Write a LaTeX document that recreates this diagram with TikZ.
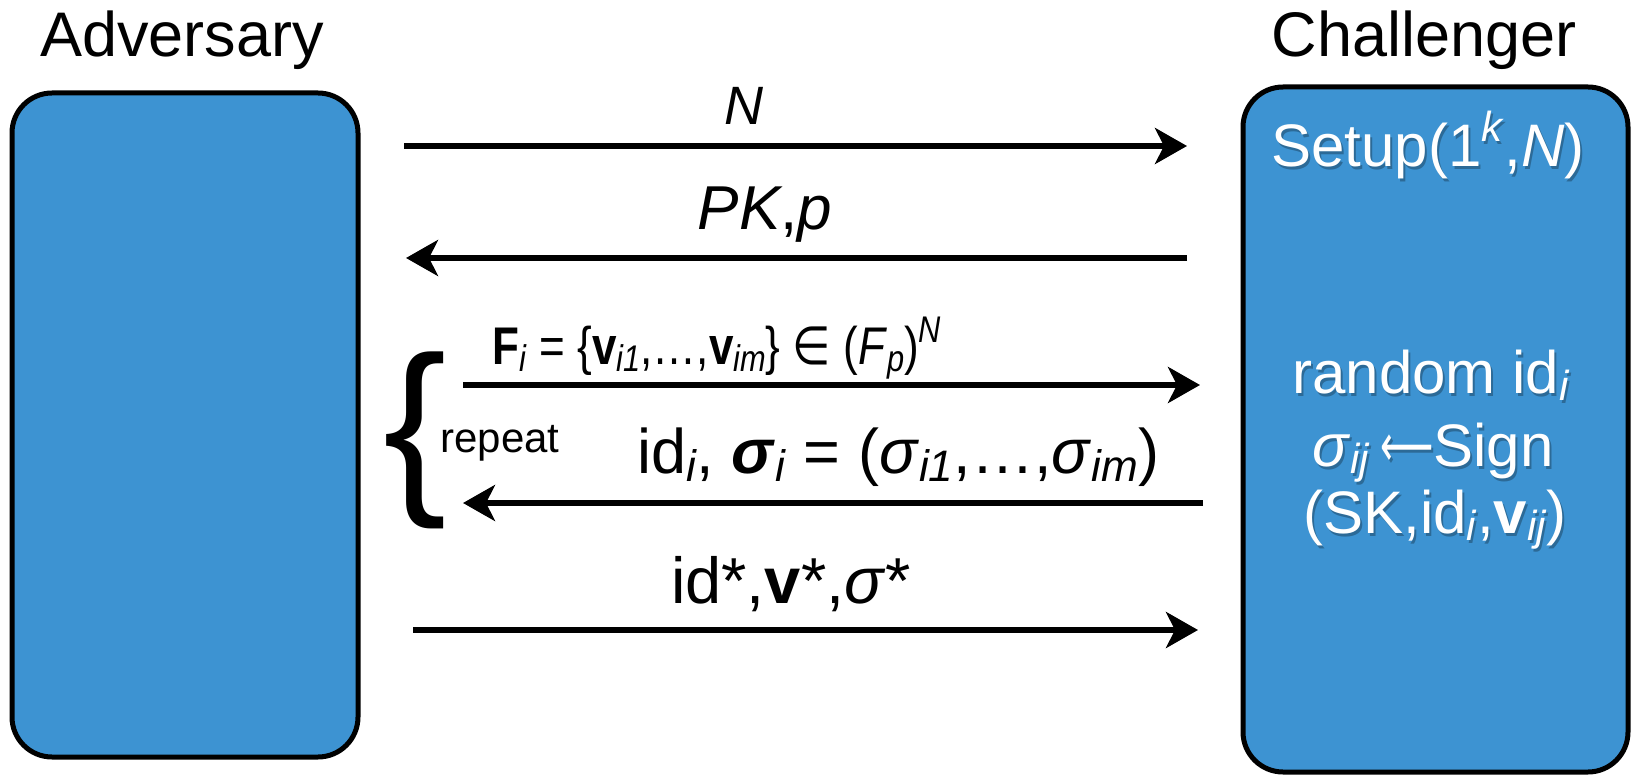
\documentclass[tikz,border=0pt]{standalone}
\usepackage{fontspec}
\setmainfont{Liberation Sans}
\newfontfamily\symf{DejaVu Sans}
\usetikzlibrary{arrows.meta}
\definecolor{boxblue}{RGB}{61,147,210}
\newcommand\sbx[1]{\raisebox{-0.13em}{\scalebox{0.7}{#1}}}
\newcommand\spx[1]{\raisebox{0.42em}{\scalebox{0.7}{#1}}}
\newcommand\wnode[3]{%
  \node[wt, text=black, opacity=0.28, xshift=2pt, yshift=-3pt] (#1-sh) at (#2) {#3};
  \node[wt] (#1) at (#2) {#3};}
\begin{document}
\begin{tikzpicture}[x=1pt,y=-1pt,
 box/.style={draw=black, line width=5pt, fill=boxblue, rounded corners=40pt, inner sep=0pt},
 msg/.style={line width=6pt, -{Stealth[length=32pt,width=36pt,inset=9pt]}},
 title/.style={font=\fontsize{63}{75}\selectfont, text=black, inner sep=0pt, anchor=base},
 lbl/.style={font=\fontsize{54}{62}\selectfont, inner sep=0pt, anchor=base},
 lblb/.style={font=\fontsize{63}{72}\selectfont, inner sep=0pt, anchor=base},
 wt/.style={font=\fontsize{60}{70}\selectfont, text=white, inner sep=0pt, anchor=base},
]
\useasboundingbox (0,0) rectangle (1633,775);
% boxes
\node[box, minimum width=346pt, minimum height=664pt] (adv) at (185,425) {};
\node[box, minimum width=385pt, minimum height=685pt] (chal) at (1435.5,429.5) {};
% titles
\node[title] (tadv) at (182,57) {Adversary};
\node[title] (tchal) at (1424,57) {Challenger};
% challenger texts
\wnode{setup}{1428,167}{Setup(1\spx{\textit{k}},\textit{N})}
\wnode{rnd}{1431,393}{random id\sbx{\textit{i}}}
\wnode{sgn}{1433,466}{\textit{σ}\sbx{\textit{ij}}\,\scalebox{0.62}[1]{\symf ⟵}Sign}
\wnode{sk}{1435,533}{(SK,id\sbx{\textit{i}},\textbf{v}\sbx{\textit{ij}})}
% arrow end points
\coordinate (a1s) at (404,146); \coordinate (a1e) at (1187,146);
\coordinate (a2s) at (1187,258); \coordinate (a2e) at (406,258);
\coordinate (a3s) at (463,385); \coordinate (a3e) at (1200,385);
\coordinate (a4s) at (1203,503); \coordinate (a4e) at (463,503);
\coordinate (a5s) at (413,630); \coordinate (a5e) at (1198,630);
\draw[msg] (a1s) -- (a1e);
\draw[msg] (a2s) -- (a2e);
\draw[msg] (a3s) -- (a3e);
\draw[msg] (a4s) -- (a4e);
\draw[msg] (a5s) -- (a5e);
% labels
\node[lbl] (l1) at (744,125) {\textit{N}};
\node[lbl, font=\fontsize{62}{70}\selectfont] (l2) at (765,230) {\textit{PK},\textit{p}};
\node[lbl, font=\fontsize{53}{60}\selectfont, xscale=0.83] (l3) at (717,365) {\textbf{F}\sbx{\textit{i}} = \{\textbf{v}\sbx{\textit{i1}},…,\textbf{v}\sbx{\textit{im}}\} {\symf ∈} (\textit{F}\sbx{\textit{p}})\spx{\textit{N}}};
\node[lblb] (l4) at (898,473) {id\sbx{\textit{i}}, \textbf{\textit{σ}}\sbx{\textit{i}} = (\textit{σ}\sbx{\textit{i1}},…,\textit{σ}\sbx{\textit{im}})};
\node[lblb, font=\fontsize{65}{72}\selectfont] (l5) at (791,603) {id*,\textbf{v}*,\textit{σ}*};
% repeat brace
\node[inner sep=0pt, font=\fontsize{190}{190}\selectfont] (brace) at (415,440) {\{};
\node[inner sep=0pt, font=\fontsize{42}{50}\selectfont, anchor=base] (rep) at (500,452) {repeat};
\end{tikzpicture}
\end{document}
